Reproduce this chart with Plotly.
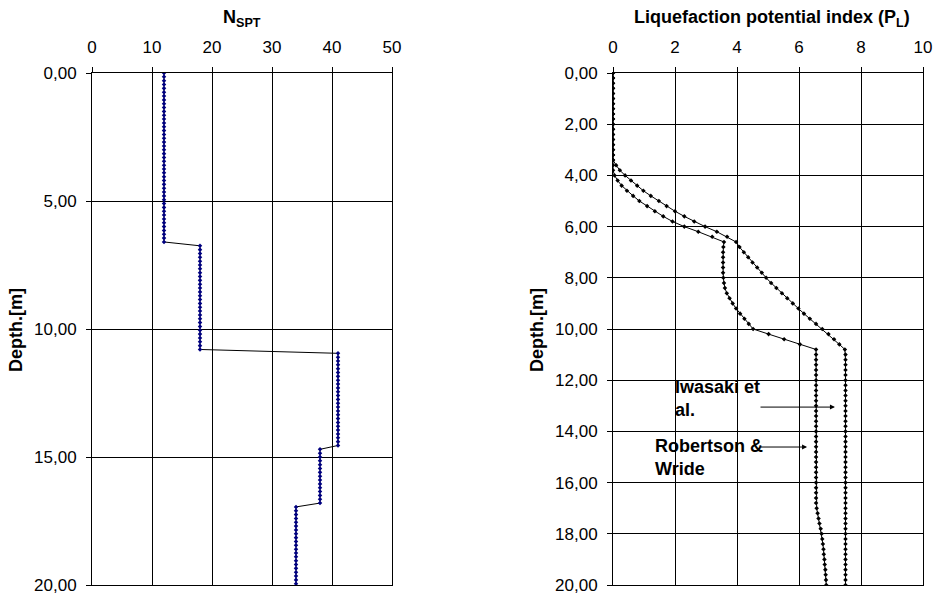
import plotly.graph_objects as go

# ---------------- data ----------------
# Left panel: N_SPT sampled every 0.15 m
DEPTH_L = [round(i * 0.15, 2) for i in range(134)]
NSPT = [12] * 45 + [18] * 28 + [41] * 25 + [38] * 15 + [34] * 21

# Right panel: liquefaction potential index sampled every 0.2 m
DEPTH_R = [round(i * 0.2, 1) for i in range(101)]
PL_IWASAKI = ([0.0] * 18
              + [0.10, 0.22, 0.39, 0.58, 0.78, 0.98, 1.22, 1.48, 1.73, 2.00,
                 2.30, 2.62, 2.97, 3.35, 3.68, 3.97]
              + [4.08, 4.22, 4.36, 4.50, 4.65, 4.80, 4.94, 5.10, 5.27, 5.45,
                 5.62, 5.80, 5.98, 6.16, 6.35, 6.55, 6.75, 6.95, 7.13, 7.30, 7.48]
              + [7.5] * 46)
PL_ROBERTSON = ([0.0] * 20
                + [0.05, 0.15, 0.28, 0.45, 0.65, 0.85, 1.10, 1.35, 1.62, 1.92,
                   2.30, 2.75, 3.20, 3.58]
                + [3.56, 3.55, 3.55, 3.55, 3.55, 3.55, 3.56, 3.58, 3.61, 3.67,
                   3.76, 3.86, 3.97, 4.10, 4.24, 4.38, 4.52, 5.02, 5.52, 6.03, 6.55]
                + [6.55] * 30
                + [6.57, 6.60, 6.63, 6.66, 6.70, 6.73, 6.75, 6.77, 6.79, 6.80,
                   6.82, 6.83, 6.85, 6.86, 6.87, 6.88])

LEFT_XTICKS = [0, 10, 20, 30, 40, 50]
RIGHT_XTICKS = [0, 2, 4, 6, 8, 10]
LEFT_YTICKS = [0, 5, 10, 15, 20]
LEFT_YLABELS = ["0,00", "5,00", "10,00", "15,00", "20,00"]
RIGHT_YTICKS = [0, 2, 4, 6, 8, 10, 12, 14, 16, 18, 20]
RIGHT_YLABELS = ["0,00", "2,00", "4,00", "6,00", "8,00", "10,00",
                 "12,00", "14,00", "16,00", "18,00", "20,00"]

FONT = "Arial, Liberation Sans, sans-serif"
TICKSIZE = 17
BOLDSIZE = 18

fig = go.Figure()
fig.add_trace(go.Scatter(
    x=NSPT, y=DEPTH_L, mode="lines+markers", xaxis="x", yaxis="y",
    line=dict(color="black", width=1),
    marker=dict(color="#000080", size=3.5, symbol="diamond"),
    showlegend=False))
fig.add_trace(go.Scatter(
    x=PL_IWASAKI, y=DEPTH_R, mode="lines+markers", xaxis="x2", yaxis="y2",
    line=dict(color="black", width=1),
    marker=dict(color="black", size=3.5, symbol="diamond"),
    showlegend=False))
fig.add_trace(go.Scatter(
    x=PL_ROBERTSON, y=DEPTH_R, mode="lines+markers", xaxis="x2", yaxis="y2",
    line=dict(color="black", width=1),
    marker=dict(color="black", size=3.5, symbol="diamond"),
    showlegend=False))

Y0, Y1 = 1 - 585 / 597, 1 - 73 / 597

common_x = dict(side="top", showgrid=True, gridcolor="black", gridwidth=1,
                showline=True, linecolor="black", linewidth=1, mirror=True,
                ticks="outside", ticklen=5, tickcolor="black", zeroline=False,
                automargin=False, ticklabelstandoff=7,
                tickfont=dict(family=FONT, size=TICKSIZE, color="black"))
common_y = dict(showgrid=True, gridcolor="black", gridwidth=1,
                showline=True, linecolor="black", linewidth=1, mirror=True,
                ticks="outside", ticklen=5, tickcolor="black", zeroline=False,
                automargin=False, ticklabelstandoff=6,
                tickfont=dict(family=FONT, size=TICKSIZE, color="black"))

bold = dict(family=FONT, size=BOLDSIZE, color="black")

fig.update_layout(
    width=938, height=597,
    margin=dict(l=0, r=0, t=0, b=0, autoexpand=False),
    paper_bgcolor="white", plot_bgcolor="white",
    xaxis=dict(common_x, domain=[92 / 938, 392 / 938], range=[0, 50],
               tickvals=LEFT_XTICKS, anchor="y"),
    yaxis=dict(common_y, domain=[Y0, Y1], range=[20, 0],
               tickvals=LEFT_YTICKS, ticktext=LEFT_YLABELS, anchor="x"),
    xaxis2=dict(common_x, domain=[613 / 938, 923 / 938], range=[0, 10],
                tickvals=RIGHT_XTICKS, anchor="y2"),
    yaxis2=dict(common_y, domain=[Y0, Y1], range=[20, 0],
                tickvals=RIGHT_YTICKS, ticktext=RIGHT_YLABELS, anchor="x2"),
    annotations=[
        dict(text="<b>N<sub>SPT</sub></b>", x=242 / 938, y=1 - 19 / 597,
             xref="paper", yref="paper", showarrow=False, font=bold,
             xanchor="center", yanchor="middle"),
        dict(text="<b>Liquefaction potential index (P<sub>L</sub>)</b>",
             x=772 / 938, y=1 - 19 / 597, xref="paper", yref="paper",
             showarrow=False, font=bold, xanchor="center", yanchor="middle"),
        dict(text="<b>Depth.[m]</b>", x=16 / 938, y=1 - 330 / 597,
             xref="paper", yref="paper", showarrow=False, textangle=-90,
             font=bold, xanchor="center", yanchor="middle"),
        dict(text="<b>Depth.[m]</b>", x=537 / 938, y=1 - 330 / 597,
             xref="paper", yref="paper", showarrow=False, textangle=-90,
             font=bold, xanchor="center", yanchor="middle"),
        dict(text="<b>Iwasaki et<br>al.</b>", x=1.94, y=12.73,
             xref="x2", yref="y2", showarrow=False, xanchor="left",
             align="left", font=bold),
        dict(text="<b>Robertson &<br>Wride</b>", x=1.29, y=15.0,
             xref="x2", yref="y2", showarrow=False, xanchor="left",
             align="left", font=bold),
        dict(x=7.16, y=13.05, ax=4.71, ay=13.05, xref="x2", yref="y2",
             axref="x2", ayref="y2", showarrow=True, arrowhead=2,
             arrowsize=1, arrowwidth=1, arrowcolor="black", text=""),
        dict(x=6.26, y=14.61, ax=4.71, ay=14.61, xref="x2", yref="y2",
             axref="x2", ayref="y2", showarrow=True, arrowhead=2,
             arrowsize=1, arrowwidth=1, arrowcolor="black", text=""),
    ],
)

fig.write_html("out.html")
